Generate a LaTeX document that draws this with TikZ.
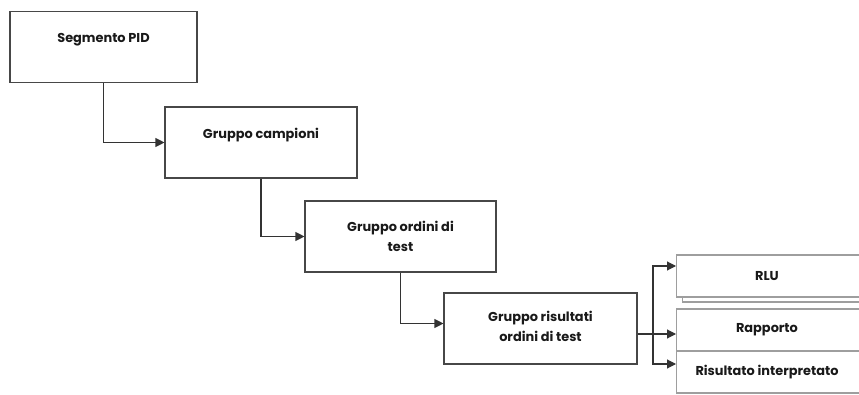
\documentclass[tikz,border=0pt]{standalone}
\usepackage{fontspec}
\newfontfamily\qfont{Poppins}
\usetikzlibrary{arrows.meta,calc}
\begin{document}
\begin{tikzpicture}[x=1pt,y=-1pt,
  box/.style={draw=black!72,line width=1.1pt,fill=white,minimum width=#1,minimum height=71pt,inner sep=0pt},
  sub/.style={draw=black!38,line width=1.1pt,fill=white,minimum width=200pt,minimum height=42pt,inner sep=0pt,anchor=west},
  lbl/.style={font=\qfont\bfseries\fontsize{12.9}{20}\selectfont,align=center,text=black!90,inner sep=0pt},
  conn/.style={draw=black!80,line width=1.1pt,-{Triangle[length=9pt,width=9pt]}}]
\useasboundingbox (0,0) rectangle (859,395);
% main boxes
\node[box=187pt] (b1) at (103.5,47) {};
\node[lbl] (t1) at (103.5,40) {Segmento PID};
\node[box=192pt] (b2) at (261,142.5) {};
\node[lbl] (t2) at (261,135) {Gruppo campioni};
\node[box=191pt] (b3) at (400.5,236.5) {};
\node[lbl] (t3) at (400.5,236) {Gruppo ordini di\\test};
\node[box=193pt] (b4) at (540.5,328.5) {};
\node[lbl] (t4) at (540.5,326) {Gruppo risultati\\ordini di test};
% right boxes
\node[sub,minimum height=42pt] (rlus) at (682,281) {};
\node[sub] (rlu) at (676,276) {};
\node[lbl] (t5) at (767,276) {RLU};
\node[sub] (rap) at (676,330) {};
\node[lbl] (t6) at (767,330) {Rapporto};
\node[sub] (ris) at (676,372) {};
\node[lbl] (t7) at (767,372) {Risultato interpretato};
% connectors
\coordinate (fork) at (653,334);
\draw[conn] (b1.south) |- (b2.west);
\draw[conn] (b2.south) |- (b3.west);
\draw[conn] (b3.south) |- ([yshift=5pt]b4.west);
\draw[conn] (fork -| b4.east) -- (fork -| rap.west);
\draw[conn] (fork) |- ([yshift=10pt]rlu.west);
\draw[conn] (fork) |- ([yshift=8pt]ris.west);
\end{tikzpicture}
\end{document}
